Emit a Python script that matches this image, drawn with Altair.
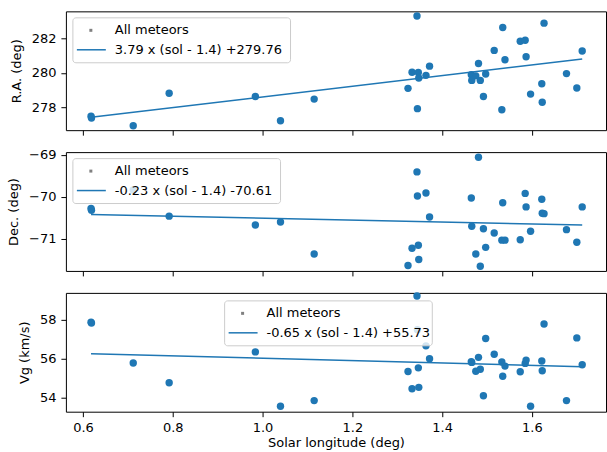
import altair as alt
import pandas as pd

# ---- data ----
sol = [0.618, 0.619, 0.712, 0.792, 0.984, 1.040, 1.115,
       1.324, 1.333, 1.344, 1.345, 1.347, 1.348, 1.364, 1.372,
       1.465, 1.466, 1.475, 1.481, 1.485, 1.492, 1.497, 1.516, 1.533, 1.535, 1.540,
       1.574, 1.585, 1.587, 1.597, 1.622, 1.623, 1.627, 1.677, 1.700, 1.712]

ra = [277.50, 277.40, 276.95, 278.83, 278.64, 277.24, 278.49,
      279.11, 280.04, 283.28, 277.94, 280.02, 279.71, 279.86, 280.39,
      279.90, 279.57, 279.83, 280.54, 279.57, 278.64, 279.94, 281.30, 277.88, 282.62, 280.76,
      281.83, 281.88, 280.93, 278.78, 279.38, 278.31, 282.87, 279.96, 279.13, 281.26]

dec = [-70.28, -70.32, -69.84, -70.46, -70.67, -70.60, -71.36,
       -71.63, -71.22, -69.41, -69.98, -71.15, -71.49, -69.91, -70.48,
       -70.03, -70.70, -71.36, -69.06, -71.65, -70.76, -71.20, -70.86, -71.03, -70.14, -71.03,
       -71.02, -69.92, -70.24, -70.82, -70.06, -70.39, -70.40, -70.78, -71.08, -70.24]

vg = [57.86, 57.82, 55.77, 54.76, 56.34, 53.55, 53.84,
      55.33, 54.45, 59.21, 57.48, 55.52, 54.52, 56.65, 55.99,
      55.84, 55.80, 55.35, 56.06, 55.45, 54.09, 57.03, 56.22, 55.82, 55.09, 55.61,
      55.32, 55.75, 55.92, 53.55, 55.87, 55.37, 57.77, 53.84, 57.06, 55.68]

y_titles = ["R.A. (deg)", "Dec. (deg)", "Vg (km/s)"]
y_domains = [[276.70, 283.55], [-71.76, -68.94], [53.27, 59.37]]
y_ticks = [[278, 280, 282], [-71, -70, -69], [54, 56, 58]]
x_ticks = [0.6, 0.8, 1.0, 1.2, 1.4, 1.6]
x_domain = [0.562, 1.765]
x_title = "Solar longitude (deg)"

# fitted lines, end values (at the first and last sol)
fit_ends = [[277.44, 280.80], [-70.42, -70.67], [56.25, 55.58]]
fit_labels = ["3.79 x (sol - 1.4) +279.76",
              "-0.23 x (sol - 1.4) -70.61",
              "-0.65 x (sol - 1.4) +55.73"]
points_label = "All meteors"

# legend boxes (x0, y0, x1, y1) in plot pixels
legend_boxes = [(7, 6.5, 225, 51.5), (7, 6.5, 215, 51.5), (159, 8, 367, 53)]

BLUE = "#1f77b4"
FONT = "DejaVu Sans"
W, H = 541, 119
one = pd.DataFrame({"k": [0]})


def panel(i, values, bottom):
    df = pd.DataFrame({"sol": sol, "val": values})
    xaxis_kw = dict(values=x_ticks, format=".1f", labels=bottom)
    xaxis_kw["title"] = x_title if bottom else None
    x = alt.X("sol:Q", scale=alt.Scale(domain=x_domain, nice=False, zero=False),
              axis=alt.Axis(**xaxis_kw))
    y = alt.Y("val:Q", scale=alt.Scale(domain=y_domains[i], nice=False, zero=False),
              axis=alt.Axis(values=y_ticks[i], format="d", title=y_titles[i]))

    pts = alt.Chart(df).mark_circle(size=55, color=BLUE, opacity=1).encode(x=x, y=y)

    fit_df = pd.DataFrame({"sol": [min(sol), max(sol)], "val": fit_ends[i]})
    line = alt.Chart(fit_df).mark_line(color=BLUE, strokeWidth=1.5).encode(x=x, y=y)

    bx0, by0, bx1, by1 = legend_boxes[i]
    box = alt.Chart(one).mark_rect(fill="white", fillOpacity=0.8, stroke="#cccccc",
                                   strokeWidth=1, cornerRadius=3).encode(
        x=alt.value(bx0), x2=alt.value(bx1), y=alt.value(by0), y2=alt.value(by1))
    mk = alt.Chart(one).mark_square(size=9, color="#808080", opacity=1).encode(
        x=alt.value(bx0 + 18), y=alt.value(by0 + 12.5))
    ln = alt.Chart(one).mark_rule(color=BLUE, strokeWidth=1.5).encode(
        x=alt.value(bx0 + 4), x2=alt.value(bx0 + 33), y=alt.value(by0 + 32))
    t1 = alt.Chart(one).mark_text(align="left", baseline="middle", fontSize=13, font=FONT,
                                  color="black", text=points_label).encode(
        x=alt.value(bx0 + 42), y=alt.value(by0 + 12.5))
    t2 = alt.Chart(one).mark_text(align="left", baseline="middle", fontSize=13, font=FONT,
                                  color="black", text=fit_labels[i]).encode(
        x=alt.value(bx0 + 42), y=alt.value(by0 + 32))

    return alt.layer(pts, line, box, mk, ln, t1, t2).properties(width=W, height=H)


chart = alt.vconcat(
    panel(0, ra, False),
    panel(1, dec, False),
    panel(2, vg, True),
    spacing=22,
    bounds="flush",
).properties(
    padding={"left": 7, "top": 10, "right": 0, "bottom": 1},
    background="white",
).configure_view(
    stroke="black", strokeWidth=1
).configure_axis(
    labelFont=FONT, labelFontSize=13, labelColor="black",
    titleFont=FONT, titleFontSize=13, titleColor="black", titleFontWeight="normal",
    tickColor="black", tickSize=5, tickWidth=1,
    domain=False, grid=False, labelPadding=5,
).configure_axisX(
    titlePadding=2
).configure_axisY(
    titlePadding=8
)

chart.save("out.html", embed_options={"renderer": "svg", "actions": False})
